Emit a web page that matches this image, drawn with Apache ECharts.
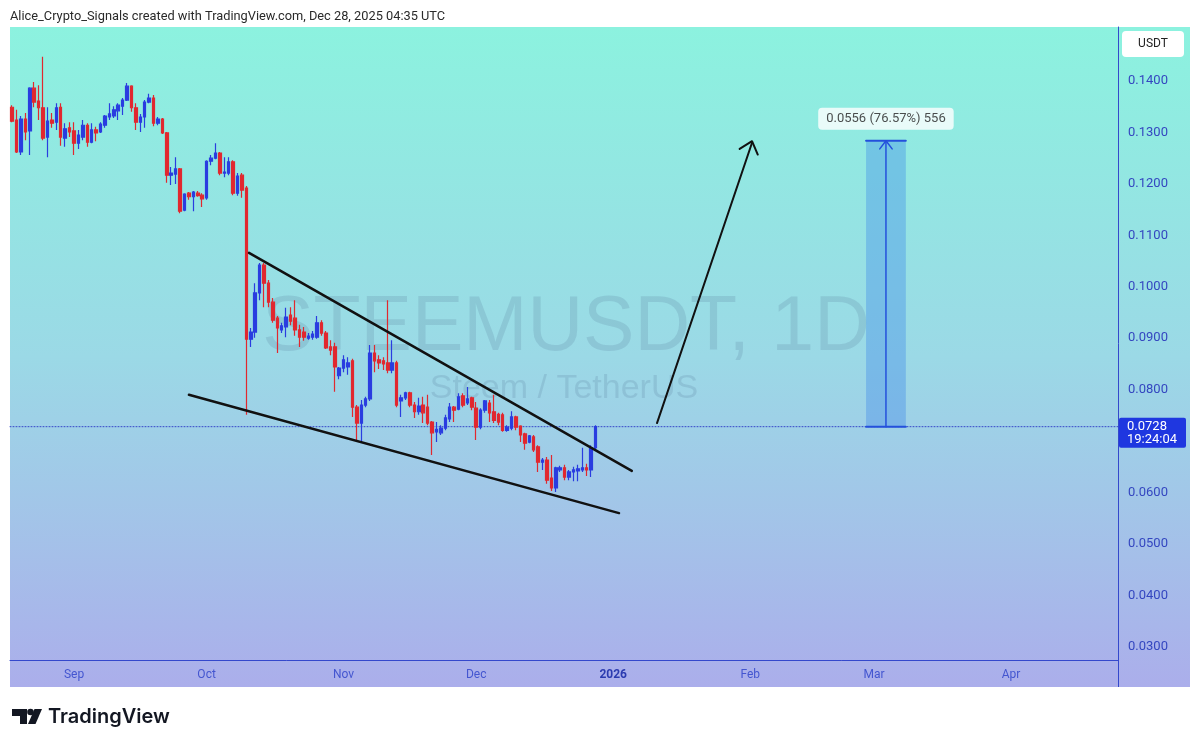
<!DOCTYPE html>
<html><head><meta charset="utf-8">
<script src="https://cdn.jsdelivr.net/npm/echarts@6/dist/echarts.min.js"></script>
<style>html,body{margin:0;padding:0;background:#fff}#c{width:1200px;height:747px}</style>
</head><body><div id="c"></div>
<script>
// ---- data ----
// days counted from 2025-09-01 (=0); first candle is 2025-08-18
const firstCandleDay = -14;
// daily candles: [open, close, low, high]
const ohlc = [
[.1349,.1322,.1320,.1353],[.1324,.1262,.1260,.1344],[.1262,.1326,.1256,.1332],[.1326,.1301,.1285,.1338],
[.1303,.1386,.1256,.1388],[.1386,.1359,.1349,.1398],[.1361,.1348,.1324,.1392],[.1348,.1289,.1285,.1447],
[.1291,.1322,.1252,.1349],[.1324,.1318,.1309,.1338],[.1320,.1348,.1305,.1357],[.1349,.1291,.1274,.1357],
[.1289,.1307,.1272,.1318],[.1309,.1301,.1291,.1320],[.1303,.1279,.1256,.1320],[.1279,.1295,.1268,.1305],
[.1291,.1314,.1285,.1324],[.1314,.1281,.1272,.1318],[.1281,.1305,.1279,.1318],[.1305,.1299,.1283,.1311],
[.1301,.1316,.1299,.1320],[.1314,.1332,.1309,.1334],[.1330,.1336,.1324,.1357],[.1332,.1344,.1328,.1351],
[.1342,.1353,.1324,.1357],[.1351,.1363,.1334,.1367],[.1363,.1390,.1361,.1396],[.1390,.1348,.1340,.1392],
[.1348,.1320,.1305,.1357],[.1320,.1330,.1301,.1336],[.1330,.1359,.1309,.1363],[.1359,.1367,.1357,.1375],
[.1367,.1318,.1312,.1373],[.1318,.1326,.1314,.1330],[.1326,.1299,.1297,.1328],[.1299,.1217,.1202,.1301],
[.1217,.1221,.1198,.1233],[.1219,.1229,.1200,.1252],[.1229,.1147,.1143,.1231],[.1149,.1180,.1147,.1182],
[.1182,.1175,.1169,.1184],[.1175,.1184,.1147,.1186],[.1182,.1177,.1175,.1186],[.1178,.1171,.1155,.1182],
[.1173,.1244,.1169,.1246],[.1244,.1250,.1236,.1256],[.1250,.1260,.1248,.1279],[.1260,.1221,.1217,.1262],
[.1221,.1223,.1213,.1252],[.1221,.1243,.1217,.1252],[.1243,.1182,.1178,.1246],[.1182,.1215,.1177,.1221],
[.1217,.1188,.1173,.1221],[.1192,.0898,.0751,.1196],[.0898,.0912,.0883,.0920],[.0912,.0988,.0901,.1007],
[.0988,.1042,.0974,.1046],[.1042,.1007,.0960,.1046],[.1007,.0970,.0960,.1013],[.0970,.0935,.0930,.0978],
[.0939,.0920,.0871,.0943],[.0916,.0924,.0910,.0930],[.0922,.0941,.0902,.0959],[.0945,.0933,.0925,.0960],
[.0939,.0916,.0905,.0974],[.0916,.0902,.0883,.0926],[.0912,.0902,.0895,.0922],[.0900,.0904,.0897,.0910],
[.0902,.0908,.0897,.0914],[.0902,.0930,.0899,.0943],[.0930,.0910,.0905,.0935],[.0910,.0881,.0879,.0914],
[.0883,.0877,.0867,.0896],[.0883,.0844,.0796,.0891],[.0827,.0842,.0820,.0844],[.0842,.0858,.0834,.0867],
[.0844,.0852,.0829,.0863],[.0856,.0766,.0747,.0860],[.0766,.0735,.0702,.0770],[.0735,.0770,.0698,.0780],
[.0770,.0782,.0766,.0786],[.0782,.0871,.0778,.0887],[.0871,.0856,.0834,.0887],[.0858,.0852,.0840,.0867],
[.0856,.0850,.0838,.0863],[.0852,.0838,.0832,.0974],[.0838,.0852,.0832,.0896],[.0852,.0770,.0766,.0856],
[.0778,.0784,.0747,.0790],[.0784,.0794,.0780,.0796],[.0794,.0770,.0766,.0796],[.0770,.0757,.0745,.0776],
[.0757,.0768,.0751,.0784],[.0770,.0755,.0735,.0786],[.0766,.0735,.0731,.0790],[.0737,.0716,.0673,.0739],
[.0718,.0723,.0698,.0737],[.0716,.0725,.0712,.0731],[.0725,.0745,.0721,.0751],[.0743,.0766,.0737,.0774],
[.0766,.0760,.0737,.0768],[.0762,.0786,.0760,.0793],[.0788,.0770,.0766,.0793],[.0774,.0782,.0770,.0805],
[.0784,.0766,.0760,.0786],[.0764,.0727,.0702,.0776],[.0727,.0760,.0723,.0764],[.0760,.0778,.0755,.0780],
[.0774,.0755,.0737,.0780],[.0757,.0740,.0735,.0790],[.0752,.0737,.0731,.0755],[.0751,.0721,.0718,.0755],
[.0721,.0727,.0718,.0731],[.0725,.0747,.0721,.0758],[.0747,.0727,.0721,.0749],[.0729,.0712,.0698,.0731],
[.0714,.0696,.0683,.0716],[.0698,.0710,.0696,.0712],[.0708,.0683,.0679,.0712],[.0689,.0659,.0640,.0692],
[.0659,.0663,.0644,.0667],[.0663,.0624,.0617,.0669],[.0628,.0609,.0603,.0673],[.0609,.0648,.0601,.0650],
[.0644,.0648,.0640,.0652],[.0648,.0630,.0624,.0654],[.0630,.0640,.0624,.0644],[.0640,.0644,.0622,.0650],
[.0642,.0646,.0622,.0654],[.0644,.0648,.0640,.0687],[.0648,.0644,.0632,.0656],[.0644,.0687,.0630,.0692],
[.0687,.0728,.0683,.0731]
];
const monthTickDays = [0, 30, 61, 91, 122, 153, 181, 212];
const monthTickLabels = ['Sep', 'Oct', 'Nov', 'Dec', '2026', 'Feb', 'Mar', 'Apr'];
const priceTicks = [0.03, 0.04, 0.05, 0.06, 0.07, 0.08, 0.09, 0.10, 0.11, 0.12, 0.13, 0.14];
const dayRange = [-14.48, 236.2];
const priceRange = [0.02744, 0.1505];
const upperTrend = [[39.6, 0.1066], [126.2, 0.0642]];
const lowerTrend = [[26.0, 0.0790], [123.3, 0.0560]];
const arrowShaft = [[131.9, 0.0735], [153.4, 0.1280]];
const arrowHead = [[150.6, 0.1268], [153.4, 0.1283], [154.7, 0.1257]];
const lastPrice = 0.0728;
const targetPrice = 0.1284;
const measureFromDay = 179.2, measureToDay = 188.2, measureMidDay = 183.7;
const measureLabel = '0.0556 (76.57%) 556';
const countdown = '19:24:04';
const headerText = 'Alice_Crypto_Signals created with TradingView.com, Dec 28, 2025 04:35 UTC';
const watermark1 = 'STEEMUSDT, 1D';
const watermark2 = 'Steem / TetherUS';

// ---- chart ----
const BLUE = '#2a3de0', RED = '#e1282f', AXIS = '#3448cc';
const FONT = 'Roboto, "Noto Sans", sans-serif';
const chart = echarts.init(document.getElementById('c'));
const candleData = ohlc.map((d, i) => [firstCandleDay + i, d[0], d[1], d[2], d[3]]);

function lineSeries(data, color, width, z, type) {
  return { type: 'line', data: data, symbol: 'none', silent: true, z: z || 4,
    lineStyle: { color: color, width: width, cap: 'round', join: 'round', type: type || 'solid' }, animation: false };
}

const option = {
  animation: false,
  backgroundColor: '#ffffff',
  grid: { left: 10, right: 82, top: 27, bottom: 87, containLabel: false, outerBoundsMode: 'none' },
  xAxis: {
    type: 'value', min: dayRange[0], max: dayRange[1],
    axisLine: { show: true, onZero: false, lineStyle: { color: AXIS, width: 1 } },
    axisTick: { show: false }, splitLine: { show: false },
    axisLabel: {
      customValues: monthTickDays, margin: 9, color: '#4456d0', fontSize: 12, fontFamily: FONT,
      formatter: v => { const i = monthTickDays.indexOf(Math.round(v)); const s = monthTickLabels[i] || '';
        return /^\d{4}$/.test(s) ? '{b|' + s + '}' : s; },
      rich: { b: { fontWeight: 'bold', color: '#2b3bb0', fontSize: 12, fontFamily: FONT } }
    }
  },
  yAxis: {
    type: 'value', position: 'right', min: priceRange[0], max: priceRange[1],
    axisLine: { show: true, onZero: false, lineStyle: { color: AXIS, width: 1 } },
    axisTick: { show: false }, splitLine: { show: false },
    axisLabel: { customValues: priceTicks, formatter: v => v.toFixed(4), color: '#3447c0',
      fontSize: 13, fontFamily: FONT, margin: 10 }
  },
  series: [
    lineSeries([[dayRange[0], lastPrice], [dayRange[1], lastPrice]], '#3546c8', 1, 2, [1, 2]),
    {
      type: 'candlestick', name: 'STEEMUSDT', data: candleData, z: 3,
      encode: { x: 0, y: [1, 2, 3, 4] }, barWidth: 3,
      itemStyle: { color: BLUE, color0: RED, borderColor: BLUE, borderColor0: RED, borderWidth: 1.2 },
      markArea: { silent: true, itemStyle: { color: 'rgba(50,125,235,0.33)' },
        data: [[{ coord: [measureFromDay, lastPrice] }, { coord: [measureToDay, targetPrice] }]] }
    },
    lineSeries(upperTrend, '#111111', 2.5),
    lineSeries(lowerTrend, '#111111', 2.5),
    lineSeries(arrowShaft, '#111111', 2),
    lineSeries(arrowHead, '#111111', 2),
    lineSeries([[measureMidDay, lastPrice], [measureMidDay, targetPrice]], '#2450dc', 1.5),
    lineSeries([[measureFromDay, targetPrice], [measureToDay, targetPrice]], '#2450dc', 2),
    lineSeries([[measureFromDay, lastPrice], [measureToDay, lastPrice]], '#2450dc', 2),
    lineSeries([[measureMidDay - 1.4, targetPrice - 0.0016], [measureMidDay, targetPrice], [measureMidDay + 1.4, targetPrice - 0.0016]], '#2450dc', 1.5),
    {
      type: 'scatter', data: [[measureMidDay, targetPrice]], symbolSize: 0, silent: true, z: 6,
      label: { show: true, position: 'top', distance: 11, formatter: measureLabel,
        backgroundColor: '#ffffff', borderRadius: 4, padding: [5, 8, 4, 8],
        color: '#222222', fontSize: 13, fontFamily: FONT }
    }
  ],
  graphic: [
    { id: 'bg', type: 'rect', z: -100, silent: true, shape: { x: 10, y: 27, width: 1180, height: 660 },
      style: { fill: new echarts.graphic.LinearGradient(0, 0, 0, 1, [
        { offset: 0, color: '#8cf2df' }, { offset: 0.5, color: '#9bd9e6' }, { offset: 1, color: '#abaeeb' }]) } },
    { id: 'wm1', type: 'text', z: -90, silent: true, x: 566, y: 329,
      style: { text: watermark1, fontSize: 77, fontFamily: '"Liberation Sans", Arial, sans-serif',
        fill: 'rgba(70,100,135,0.17)', align: 'center', verticalAlign: 'middle' } },
    { id: 'wm2', type: 'text', z: -90, silent: true, x: 564, y: 389,
      style: { text: watermark2, fontSize: 34, fontFamily: '"Liberation Sans", Arial, sans-serif',
        fill: 'rgba(70,100,135,0.17)', align: 'center', verticalAlign: 'middle' } },
    { id: 'vline', type: 'line', z: 1, silent: true, shape: { x1: 1118.5, y1: 660, x2: 1118.5, y2: 687 },
      style: { stroke: AXIS, lineWidth: 1 } },
    { id: 'hdr', type: 'text', silent: true, x: 10, y: 17,
      style: { text: headerText, fontSize: 12.8, fontFamily: FONT, fill: '#2a2a2a', verticalAlign: 'middle' } },
    { id: 'usdtBox', type: 'rect', silent: true, shape: { x: 1122, y: 31, width: 62, height: 26, r: 4 },
      style: { fill: '#ffffff' } },
    { id: 'usdtTxt', type: 'text', silent: true, x: 1153, y: 44,
      style: { text: 'USDT', fontSize: 12, fontFamily: FONT, fill: '#222222', align: 'center', verticalAlign: 'middle' } },
    { id: 'logoT', type: 'polygon', silent: true,
      shape: { points: [[12, 709], [27, 709], [27, 724], [20, 724], [20, 716], [12, 716]] }, style: { fill: '#131722' } },
    { id: 'logoDot', type: 'circle', silent: true, shape: { cx: 30.5, cy: 712, r: 3.3 }, style: { fill: '#131722' } },
    { id: 'logoSlash', type: 'polygon', silent: true,
      shape: { points: [[34.5, 709], [42, 709], [35.5, 724], [28, 724]] }, style: { fill: '#131722' } },
    { id: 'logoTxt', type: 'text', silent: true, x: 48, y: 717,
      style: { text: 'TradingView', fontSize: 20, fontWeight: 600, fontFamily: 'Inter, Roboto, sans-serif',
        fill: '#131722', verticalAlign: 'middle' } }
  ]
};
chart.setOption(option);

// current price tag on the price scale, placed through the y axis scale
const py = chart.convertToPixel({ yAxisIndex: 0 }, lastPrice);
chart.setOption({
  graphic: [
    { id: 'pxBox', type: 'rect', silent: true, z: 10, shape: { x: 1119, y: py - 9, width: 67, height: 30, r: 2 },
      style: { fill: '#1f37e0' } },
    { id: 'pxTxt', type: 'text', silent: true, z: 11, x: 1127, y: py,
      style: { text: lastPrice.toFixed(4), fontSize: 13, fontFamily: FONT, fill: '#ffffff', verticalAlign: 'middle' } },
    { id: 'cdTxt', type: 'text', silent: true, z: 11, x: 1127, y: py + 13,
      style: { text: countdown, fontSize: 13, fontFamily: FONT, fill: '#ffffff', verticalAlign: 'middle' } }
  ]
});
</script></body></html>
